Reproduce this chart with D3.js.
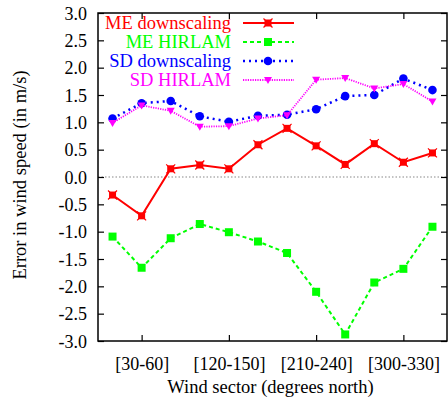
<!DOCTYPE html>
<html>
<head>
<meta charset="utf-8">
<script src="https://cdn.jsdelivr.net/npm/d3@7"></script>
<style>
body { margin: 0; background: #fff; }
text { font-family: "Liberation Serif", "Times New Roman", serif; }
</style>
</head>
<body>
<div id="chart"></div>
<script>
// Data
var sectors = ["[0-30]", "[30-60]", "[60-90]", "[90-120]", "[120-150]", "[150-180]",
    "[180-210]", "[210-240]", "[240-270]", "[270-300]", "[300-330]", "[330-360]"];
var tickSectors = ["[30-60]", "[120-150]", "[210-240]", "[300-330]"];
var yTicks = [-3, -2.5, -2, -1.5, -1, -0.5, 0, 0.5, 1, 1.5, 2, 2.5, 3];

var meDownscaling = [-0.33, -0.71, 0.15, 0.22, 0.15, 0.59, 0.89, 0.57, 0.23, 0.61, 0.27, 0.44];
var meHirlam = [-1.09, -1.66, -1.12, -0.86, -1.01, -1.18, -1.39, -2.10, -2.88, -1.93, -1.68, -0.91];
var sdDownscaling = [1.07, 1.35, 1.39, 1.11, 1.01, 1.12, 1.14, 1.24, 1.48, 1.50, 1.80, 1.59];
var sdHirlam = [0.99, 1.31, 1.21, 0.92, 0.93, 1.07, 1.13, 1.78, 1.81, 1.62, 1.70, 1.38];

var svgWidth = 448;
var svgHeight = 401;
var margin = { top: 13, right: 1, bottom: 60, left: 98 };
var width = svgWidth - margin.left - margin.right;
var height = svgHeight - margin.top - margin.bottom;

var svg = d3.select("#chart")
    .append("svg")
    .attr("width", svgWidth)
    .attr("height", svgHeight);

var g = svg.append("g")
    .attr("transform", "translate(" + margin.left + "," + margin.top + ")");

var xScale = d3.scalePoint()
    .domain(sectors)
    .range([0, width])
    .padding(0.5);

var yScale = d3.scaleLinear()
    .domain([-3, 3])
    .range([height, 0]);

var tickLen = 6;

// zero line
g.append("line")
    .attr("x1", 0)
    .attr("x2", width)
    .attr("y1", yScale(0))
    .attr("y2", yScale(0))
    .attr("stroke", "#888")
    .attr("stroke-width", 1.2)
    .attr("stroke-dasharray", "1.5,2");

// Axes (gnuplot style, ticks inward & mirrored)
var xAxis = d3.axisBottom(xScale).tickValues(tickSectors).tickSize(-tickLen).tickPadding(16);
var yAxis = d3.axisLeft(yScale).tickValues(yTicks).tickSize(-tickLen).tickPadding(11);

var xG = g.append("g")
    .attr("transform", "translate(0," + height + ")")
    .call(xAxis);
var yG = g.append("g").call(yAxis);

g.append("g")
    .call(d3.axisTop(xScale).tickValues(tickSectors).tickSize(-tickLen).tickFormat(""));
g.append("g")
    .attr("transform", "translate(" + width + ",0)")
    .call(d3.axisRight(yScale).tickValues(yTicks).tickSize(-tickLen).tickFormat(""));

g.selectAll(".domain").remove();
g.selectAll(".tick line").attr("stroke", "#000").attr("stroke-width", 1.2);
g.selectAll(".tick text")
    .attr("fill", "#000")
    .style("font-size", "18px")
    .style("font-family", "'Liberation Serif', 'Times New Roman', serif");
yG.selectAll(".tick text").attr("dy", "0.35em").text(function (d) {
    return d3.format(".1f")(d).replace("−", "-");
});

// border
g.append("rect")
    .attr("width", width)
    .attr("height", height)
    .attr("fill", "none")
    .attr("stroke", "#000")
    .attr("stroke-width", 1.5);

// axis labels
svg.append("text")
    .attr("x", margin.left + width / 2 - 2)
    .attr("y", 393)
    .attr("text-anchor", "middle")
    .style("font-size", "18.5px")
    .text("Wind sector (degrees north)");

svg.append("text")
    .attr("transform", "translate(26," + (margin.top + height / 2 - 2) + ")rotate(-90)")
    .attr("text-anchor", "middle")
    .style("font-size", "18.5px")
    .text("Error in wind speed (in m/s)");

// series
var series = [
    { name: "ME downscaling", values: meDownscaling, color: "#ff0000", width: 2, dash: null, marker: "boxx" },
    { name: "ME HIRLAM", values: meHirlam, color: "#00ff00", width: 2, dash: "4,3", marker: "square" },
    { name: "SD downscaling", values: sdDownscaling, color: "#0000ff", width: 2.5, dash: "2,4", marker: "circle" },
    { name: "SD HIRLAM", values: sdHirlam, color: "#ff00ff", width: 1.8, dash: "1.2,1.2", marker: "triangle" }
];

var line = d3.line()
    .x(function (d, i) { return xScale(sectors[i]); })
    .y(function (d) { return yScale(d); });

function drawMarker(sel, type, color, x, y) {
    if (type === "boxx") {
        sel.append("rect")
            .attr("x", x - 3.5).attr("y", y - 3.5)
            .attr("width", 7).attr("height", 7)
            .attr("fill", color);
        sel.append("path")
            .attr("d", "M" + (x - 4.5) + "," + (y - 4.5) + "L" + (x + 4.5) + "," + (y + 4.5) +
                "M" + (x - 4.5) + "," + (y + 4.5) + "L" + (x + 4.5) + "," + (y - 4.5))
            .attr("stroke", color)
            .attr("stroke-width", 1.2);
    } else if (type === "square") {
        sel.append("rect")
            .attr("x", x - 4).attr("y", y - 4)
            .attr("width", 8).attr("height", 8)
            .attr("fill", color);
    } else if (type === "circle") {
        sel.append("circle")
            .attr("cx", x).attr("cy", y).attr("r", 4.3)
            .attr("fill", color);
    } else {
        sel.append("path")
            .attr("d", "M" + (x - 4) + "," + (y - 3) + "L" + (x + 4) + "," + (y - 3) + "L" + x + "," + (y + 4) + "Z")
            .attr("fill", color);
    }
}

series.forEach(function (s) {
    g.append("path")
        .datum(s.values)
        .attr("d", line)
        .attr("fill", "none")
        .attr("stroke", s.color)
        .attr("stroke-width", s.width)
        .attr("stroke-dasharray", s.dash);
    var mg = g.append("g");
    s.values.forEach(function (v, i) {
        drawMarker(mg, s.marker, s.color, xScale(sectors[i]), yScale(v));
    });
});

// legend
var legend = svg.append("g");
series.forEach(function (s, i) {
    var ly = 23 + i * 19;
    legend.append("text")
        .attr("x", 231)
        .attr("y", ly)
        .attr("dy", "0.35em")
        .attr("text-anchor", "end")
        .attr("fill", s.color)
        .style("font-size", "18.5px")
        .text(s.name);
    legend.append("line")
        .attr("x1", 243).attr("x2", 294)
        .attr("y1", ly).attr("y2", ly)
        .attr("stroke", s.color)
        .attr("stroke-width", s.width)
        .attr("stroke-dasharray", s.dash);
    drawMarker(legend, s.marker, s.color, 268, ly);
});
</script>
</body>
</html>
